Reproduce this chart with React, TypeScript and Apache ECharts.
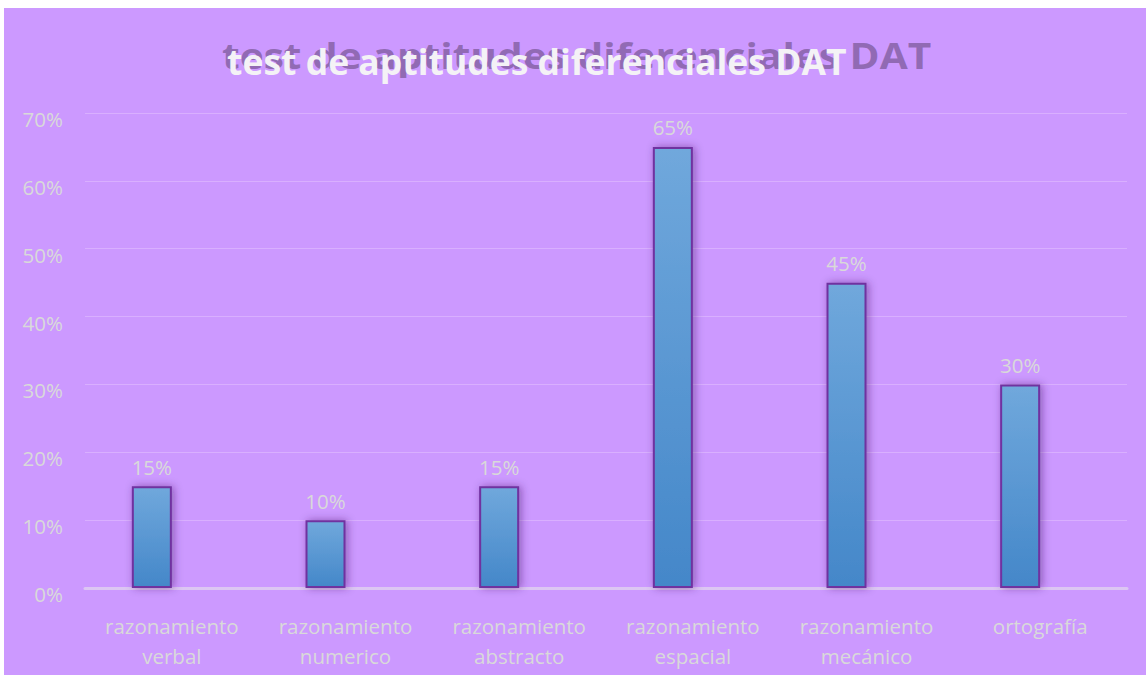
import React, { useEffect, useRef } from "react";
import * as echarts from "echarts";

const categories = [
  "razonamiento\nverbal",
  "razonamiento\nnumerico",
  "razonamiento\nabstracto",
  "razonamiento\nespacial",
  "razonamiento\nmecánico",
  "ortografía",
];
const values = [15, 10, 15, 65, 45, 30];
const emptySeries = ["-", "-", "-", "-", "-", "-"];
const titleText = "test de aptitudes diferenciales DAT";

export default function App() {
  const ref = useRef<HTMLDivElement>(null);
  useEffect(() => {
    const chart = echarts.init(ref.current!, null, { renderer: "svg" });
    const font = "'Open Sans', sans-serif";
    const labelColor = "#d9d9d9";
    chart.setOption({
      animation: false,
      backgroundColor: "#CC99FF",
      graphic: [
        {
          type: "text",
          x: 218,
          y: 29,
          scaleX: 1.145,
          style: {
            text: titleText,
            font: `bold 35.5px ${font}`,
            fill: "rgba(105,75,130,0.6)",
            shadowBlur: 5,
            shadowColor: "rgba(105,75,130,0.7)",
            textVerticalAlign: "top",
          },
        },
        {
          type: "text",
          x: 223,
          y: 35,
          style: {
            text: titleText,
            font: `bold 35.5px ${font}`,
            fill: "#f4f2f6",
            textVerticalAlign: "top",
          },
        },
      ],
      grid: { left: 81, right: 19, top: 105, bottom: 87 },
      xAxis: {
        type: "category",
        data: categories,
        axisLine: { show: true, lineStyle: { color: "#dcc6f3", width: 3 } },
        axisTick: { show: false },
        axisLabel: {
          color: labelColor,
          fontFamily: font,
          fontSize: 20.5,
          lineHeight: 30,
          margin: 23,
        },
      },
      yAxis: {
        type: "value",
        min: 0,
        max: 70,
        interval: 10,
        axisLine: { show: false },
        axisTick: { show: false },
        splitLine: { lineStyle: { color: "rgba(220,180,255,0.8)", width: 1 } },
        axisLabel: {
          color: labelColor,
          fontFamily: font,
          fontSize: 20.5,
          margin: 22,
          formatter: "{v|{value}%}",
          rich: {
            v: {
              color: labelColor,
              fontFamily: font,
              fontSize: 20.5,
              padding: [12, 0, 0, 0],
            },
          },
        },
      },
      series: [
        {
          type: "bar",
          data: values,
          barWidth: 40,
          barGap: "0%",
          itemStyle: {
            color: new echarts.graphic.LinearGradient(0, 0, 0, 1, [
              { offset: 0, color: "#70a8dc" },
              { offset: 1, color: "#4487c9" },
            ]),
            borderColor: "#7030A0",
            borderWidth: 2,
            shadowBlur: 8,
            shadowOffsetX: 2,
            shadowColor: "rgba(60,20,90,0.45)",
          },
          label: {
            show: true,
            position: "top",
            distance: 9,
            color: labelColor,
            fontFamily: font,
            fontSize: 20.5,
            formatter: "{c}%",
          },
        },
        {
          type: "bar",
          data: emptySeries,
          barWidth: 40,
        },
      ],
    });
    return () => chart.dispose();
  }, []);
  return (
    <div
      ref={ref}
      style={{ position: "fixed", left: 4, top: 8, width: 1142, height: 667 }}
    />
  );
}
